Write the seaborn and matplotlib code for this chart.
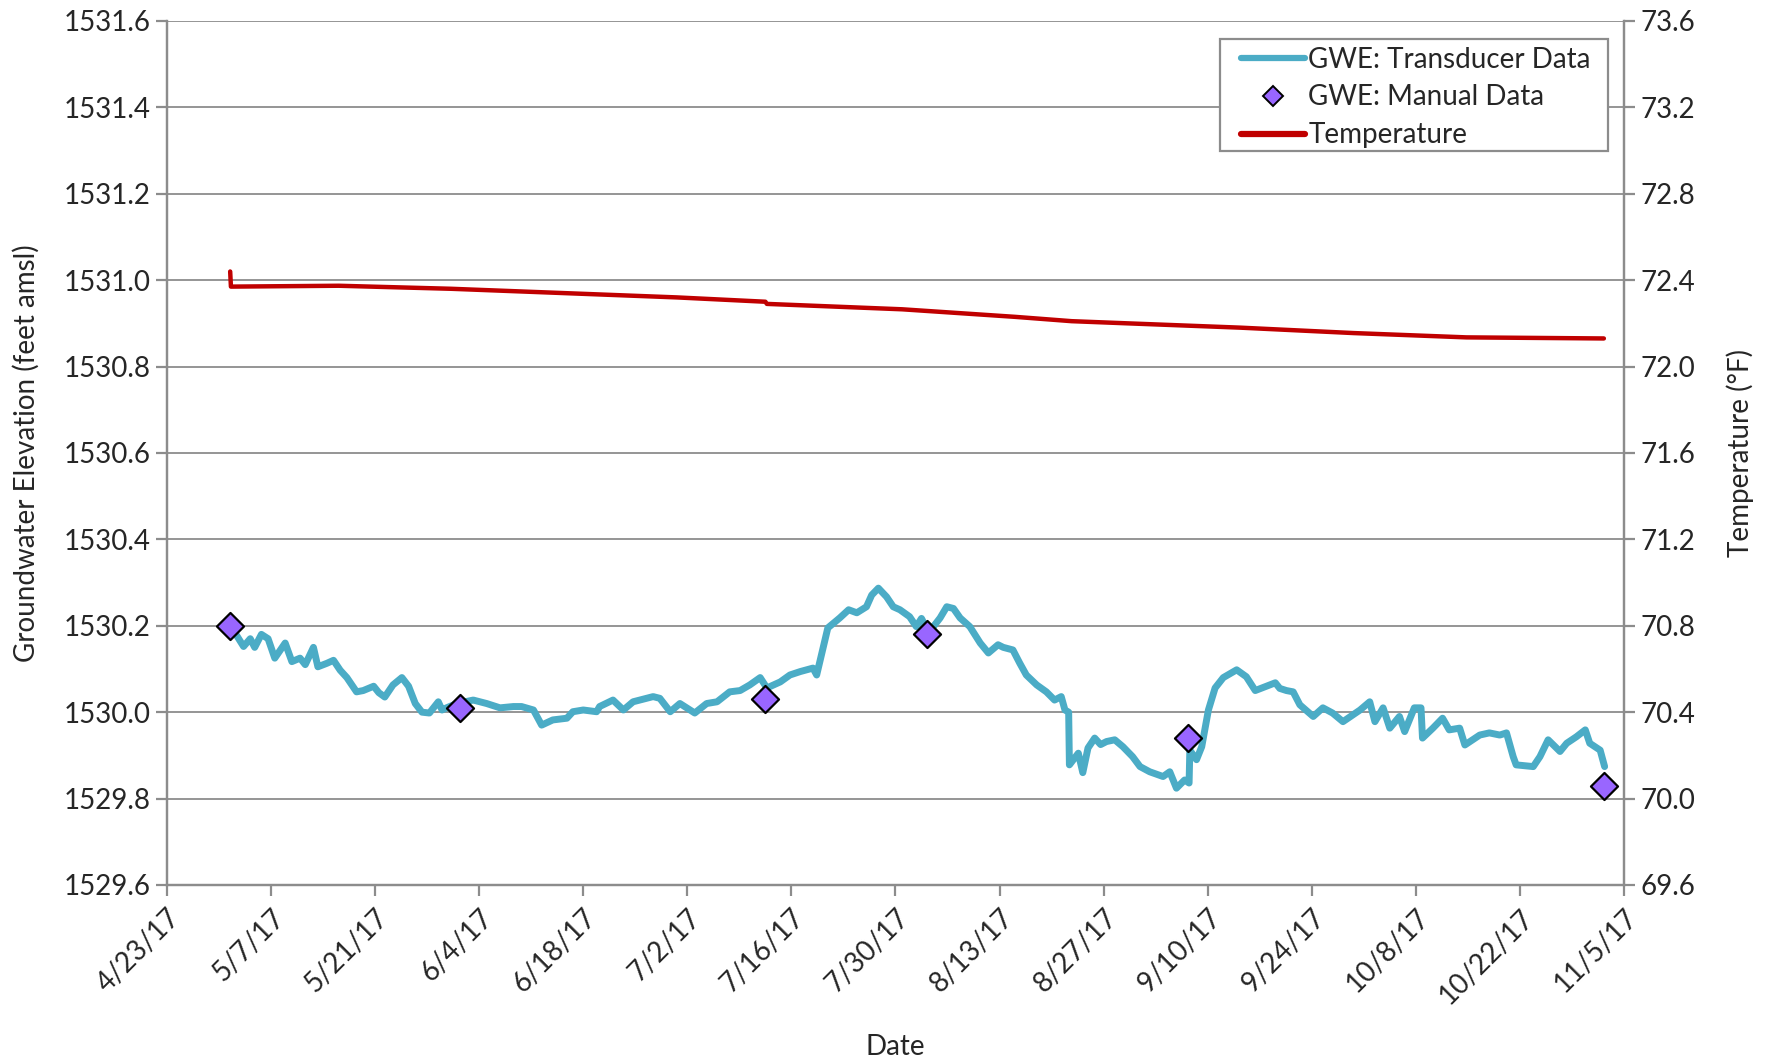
import numpy as np
import pandas as pd
import matplotlib
matplotlib.use("Agg")
import matplotlib.pyplot as plt
from matplotlib.lines import Line2D
from matplotlib.patches import Rectangle
import seaborn as sns

# ---- data -------------------------------------------------------------
start_date = "2017-04-23"

# transducer groundwater elevation (days after start, feet amsl)
gwe_day = [8.6, 9.1, 10.3, 11.2, 11.8, 12.7, 13.6, 14.5, 15.9, 16.8, 17.9, 18.6,
           19.7, 20.3, 21.5, 22.4, 23.3, 24.2, 25.5, 26.4, 27.8, 28.5, 29.3, 30.4,
           31.6, 32.5, 33.4, 34.3, 35.3, 36.5, 37.0, 37.6, 39.0, 41.2, 43.0, 44.8,
           46.6, 47.7, 49.3, 50.4, 51.9, 53.8, 54.6, 56.0, 57.8, 58.2, 60.0, 61.4,
           62.7, 65.4, 66.3, 67.7, 69.0, 71.0, 72.6, 74.0, 75.7, 77.1, 78.4, 79.8,
           80.7, 82.5, 83.8, 85.2, 86.9, 87.4, 88.3, 88.9, 90.5, 91.7, 92.8, 94.1,
           94.8, 95.7, 96.8, 97.7, 98.6, 99.9, 100.8, 101.5, 102.3, 103.1, 104.0,
           104.9, 105.8, 106.7, 108.0, 109.4, 110.5, 111.8, 112.5, 113.8, 114.7,
           115.6, 117.0, 118.3, 119.4, 120.3, 120.8, 121.3, 121.4, 122.6, 123.2,
           123.9, 124.8, 125.6, 126.4, 127.5, 128.6, 129.9, 130.9, 132.2, 134.0,
           134.9, 135.8, 136.9, 137.5, 137.6, 138.5, 139.2, 140.1, 141.0, 142.1,
           143.9, 145.2, 146.4, 147.9, 149.1, 149.7, 150.6, 151.5, 152.4, 154.2,
           155.5, 156.8, 158.2, 160.5, 161.8, 162.5, 163.6, 164.5, 165.8, 166.5,
           167.8, 168.7, 168.9, 170.3, 171.6, 172.5, 173.9, 174.6, 176.6, 177.9,
           179.3, 180.2, 181.1, 181.5, 183.8, 184.7, 185.8, 187.4, 188.3, 189.6,
           190.8, 191.4, 192.8, 193.4]
gwe_ft = [1530.190, 1530.185, 1530.152, 1530.170, 1530.150, 1530.180, 1530.170,
          1530.125, 1530.160, 1530.117, 1530.125, 1530.110, 1530.150, 1530.105,
          1530.113, 1530.120, 1530.097, 1530.080, 1530.047, 1530.050, 1530.060,
          1530.045, 1530.035, 1530.063, 1530.080, 1530.060, 1530.020, 1530.000,
          1529.998, 1530.024, 1530.005, 1530.010, 1530.020, 1530.028, 1530.020,
          1530.010, 1530.013, 1530.013, 1530.005, 1529.970, 1529.982, 1529.986,
          1530.001, 1530.005, 1530.001, 1530.013, 1530.028, 1530.005, 1530.024,
          1530.036, 1530.032, 1530.001, 1530.020, 1529.998, 1530.020, 1530.024,
          1530.047, 1530.050, 1530.063, 1530.080, 1530.056, 1530.070, 1530.086,
          1530.094, 1530.102, 1530.086, 1530.152, 1530.195, 1530.218, 1530.237,
          1530.230, 1530.244, 1530.271, 1530.287, 1530.267, 1530.244, 1530.237,
          1530.221, 1530.198, 1530.217, 1530.190, 1530.198, 1530.218, 1530.244,
          1530.240, 1530.218, 1530.198, 1530.160, 1530.137, 1530.156, 1530.150,
          1530.144, 1530.114, 1530.086, 1530.063, 1530.047, 1530.028, 1530.036,
          1530.005, 1530.000, 1529.878, 1529.905, 1529.860, 1529.917, 1529.940,
          1529.925, 1529.932, 1529.936, 1529.920, 1529.897, 1529.874, 1529.862,
          1529.851, 1529.862, 1529.824, 1529.843, 1529.836, 1529.912, 1529.890,
          1529.920, 1530.005, 1530.056, 1530.080, 1530.098, 1530.082, 1530.050,
          1530.060, 1530.068, 1530.055, 1530.050, 1530.047, 1530.017, 1529.990,
          1530.010, 1529.998, 1529.978, 1530.005, 1530.024, 1529.978, 1530.010,
          1529.963, 1529.990, 1529.955, 1530.010, 1530.010, 1529.940, 1529.963,
          1529.986, 1529.959, 1529.963, 1529.924, 1529.947, 1529.952, 1529.947,
          1529.952, 1529.897, 1529.878, 1529.874, 1529.897, 1529.936, 1529.909,
          1529.928, 1529.943, 1529.959, 1529.928, 1529.912, 1529.874]

# manual groundwater elevation measurements
manual_day = [8.5, 39.4, 80.4, 102.2, 137.4, 193.3]
manual_ft = [1530.20, 1530.01, 1530.03, 1530.18, 1529.94, 1529.83]

# water temperature (degrees F)
temp_day = [8.5, 8.6, 23.1, 38.2, 53.4, 68.6, 80.5, 80.7, 98.9, 114.1, 121.7,
            129.2, 144.4, 159.6, 174.8, 193.3]
temp_f = [72.44, 72.37, 72.374, 72.36, 72.34, 72.32, 72.30, 72.29, 72.265,
          72.23, 72.21, 72.20, 72.18, 72.155, 72.135, 72.13]

x_ticks = pd.date_range("2017-04-23", "2017-11-05", freq="14D")
left_ticks = [1529.6, 1529.8, 1530.0, 1530.2, 1530.4, 1530.6, 1530.8,
              1531.0, 1531.2, 1531.4, 1531.6]
right_ticks = [69.6, 70.0, 70.4, 70.8, 71.2, 71.6, 72.0, 72.4, 72.8, 73.2, 73.6]

# ---- frames -------------------------------------------------------------
t0 = pd.Timestamp(start_date)
gwe = pd.DataFrame({"date": t0 + pd.to_timedelta(gwe_day, unit="D"),
                    "elev": gwe_ft})
manual = pd.DataFrame({"date": t0 + pd.to_timedelta(manual_day, unit="D"),
                       "elev": manual_ft})
temp = pd.DataFrame({"date": t0 + pd.to_timedelta(temp_day, unit="D"),
                     "temp": temp_f})

# ---- style --------------------------------------------------------------
sns.set_theme(style="white")
plt.rcParams["font.family"] = ["Lato", "DejaVu Sans"]
GRID = "#8c8c8c"
FS = 20

fig = plt.figure(figsize=(17.69, 10.62), dpi=100)
ax = fig.add_axes([0.0944, 0.1667, 0.8236, 0.8136])
ax2 = ax.twinx()

sns.lineplot(data=gwe, x="date", y="elev", ax=ax, color="#4bacc6",
             linewidth=5.0, zorder=3, legend=False)
sns.scatterplot(data=manual, x="date", y="elev", ax=ax, marker="D", s=190,
                color="#9966ff", edgecolor="black", linewidth=1.6, zorder=5,
                legend=False)
sns.lineplot(data=temp, x="date", y="temp", ax=ax2, color="#c00000",
             linewidth=3.2, legend=False)

# axes ranges and ticks
ax.set_xlim(x_ticks[0], x_ticks[-1])
ax.set_ylim(left_ticks[0], left_ticks[-1])
ax2.set_ylim(right_ticks[0], right_ticks[-1])
ax.set_xticks(x_ticks)
ax.set_xticklabels([f"{d.month}/{d.day}/{d.strftime('%y')}" for d in x_ticks],
                   rotation=45, ha="right", rotation_mode="anchor")
ax.set_yticks(left_ticks)
ax.set_yticklabels([f"{v:.1f}" for v in left_ticks])
ax2.set_yticks(right_ticks)
ax2.set_yticklabels([f"{v:.1f}" for v in right_ticks])

ax.grid(axis="y", color=GRID, linewidth=1.3)
ax.grid(axis="x", visible=False)
ax2.grid(False)

for a in (ax, ax2):
    for s in a.spines.values():
        s.set_color(GRID)
        s.set_linewidth(1.6)
    a.spines["top"].set_visible(False)

ax.tick_params(axis="x", direction="out", length=8, width=1.6, color=GRID,
               labelsize=FS, pad=6, bottom=True)
ax.tick_params(axis="y", direction="out", length=8, width=1.6, color=GRID,
               labelsize=FS, pad=4, left=True)
ax2.tick_params(axis="y", direction="out", length=8, width=1.6, color=GRID,
                labelsize=FS, pad=4, right=True)

ax.set_xlabel("Date", fontsize=FS, labelpad=18)
ax.set_ylabel("Groundwater Elevation (feet amsl)", fontsize=FS, labelpad=17)
ax2.set_ylabel("Temperature (°F)", fontsize=FS, labelpad=22)

# legend: boxed panel in the upper right corner
box = Rectangle((0.6897, 0.8578), 0.2193, 0.1055, transform=fig.transFigure,
                facecolor="white", edgecolor=GRID, linewidth=1.6, zorder=10)
fig.add_artist(box)

handles = [
    Line2D([], [], color="#4bacc6", linewidth=4.5),
    Line2D([], [], linestyle="none", marker="D", markersize=10,
           markerfacecolor="#9966ff", markeredgecolor="black",
           markeredgewidth=1.4),
    Line2D([], [], color="#c00000", linewidth=4.5),
]
labels = ["GWE: Transducer Data", "GWE: Manual Data", "Temperature"]
leg = fig.legend(handles, labels, loc="upper left",
                 bbox_to_anchor=(0.7016, 0.9562), bbox_transform=fig.transFigure,
                 fontsize=FS, frameon=False, handlelength=2.3,
                 handletextpad=0.12, borderpad=0, labelspacing=0.43,
                 borderaxespad=0)
leg.set_zorder(11)

fig.savefig("out.png", dpi=100)
